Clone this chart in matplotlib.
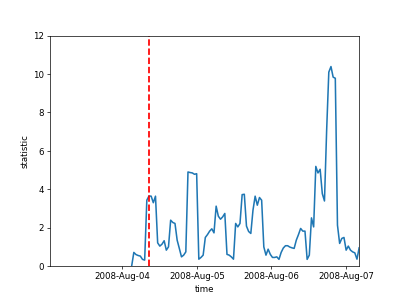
import matplotlib
matplotlib.use("Agg")
import matplotlib.pyplot as plt
import matplotlib.dates as mdates
import pandas as pd

start_time = "2008-08-04 03:00"
end_time = "2008-08-07 04:15"
change_time = "2008-08-04 08:40"
xlim_left = "2008-08-03 00:40"

values = [
    0.0, 0.71, 0.6, 0.55, 0.52, 0.35, 0.31, 3.43, 3.65, 3.64, 3.3, 3.64,
    1.21, 1.04, 1.14, 1.32, 0.83, 1.0, 2.39, 2.27, 2.22, 1.35, 0.92, 0.48,
    0.57, 0.74, 4.9, 4.87, 4.85, 4.78, 4.81, 0.36, 0.45, 0.57, 1.49, 1.64,
    1.82, 1.94, 1.73, 3.12, 2.6, 2.44, 2.56, 2.74, 0.61, 0.57, 0.48, 0.36,
    2.22, 2.04, 2.22, 3.72, 3.74, 2.08, 1.8, 1.7, 2.91, 3.64, 3.17, 3.57,
    3.43, 1.0, 0.57, 0.88, 0.61, 0.45, 0.45, 0.48, 0.35, 0.71, 0.94, 1.06,
    1.06, 0.99, 0.95, 0.92, 1.35, 1.64, 1.96, 1.82, 1.82, 0.35, 0.57, 2.51,
    2.04, 5.19, 4.85, 5.04, 3.77, 3.39, 7.06, 10.1, 10.39, 9.84, 9.78, 2.13,
    1.18, 1.44, 1.49, 0.83, 1.04, 0.83, 0.74, 0.69, 0.36, 0.95,
]
yticks = [0, 2, 4, 6, 8, 10, 12]

times = pd.date_range(start_time, end_time, periods=len(values))

fig, ax = plt.subplots(figsize=(6.4, 4.8), dpi=62.35)
ax.plot(times, values, color="C0", linewidth=1.8)
ax.axvline(pd.Timestamp(change_time), color="red", linestyle="--", linewidth=2.0)
ax.set_xlim(pd.Timestamp(xlim_left), times[-1])
ax.set_ylim(0, 12)
ax.set_yticks(yticks)
ax.xaxis.set_major_locator(mdates.DayLocator())
ax.xaxis.set_major_formatter(mdates.DateFormatter("%Y-%b-%d"))
ax.set_xlabel("time")
ax.set_ylabel("statistic")
fig.savefig("out.png", dpi=62.35)
